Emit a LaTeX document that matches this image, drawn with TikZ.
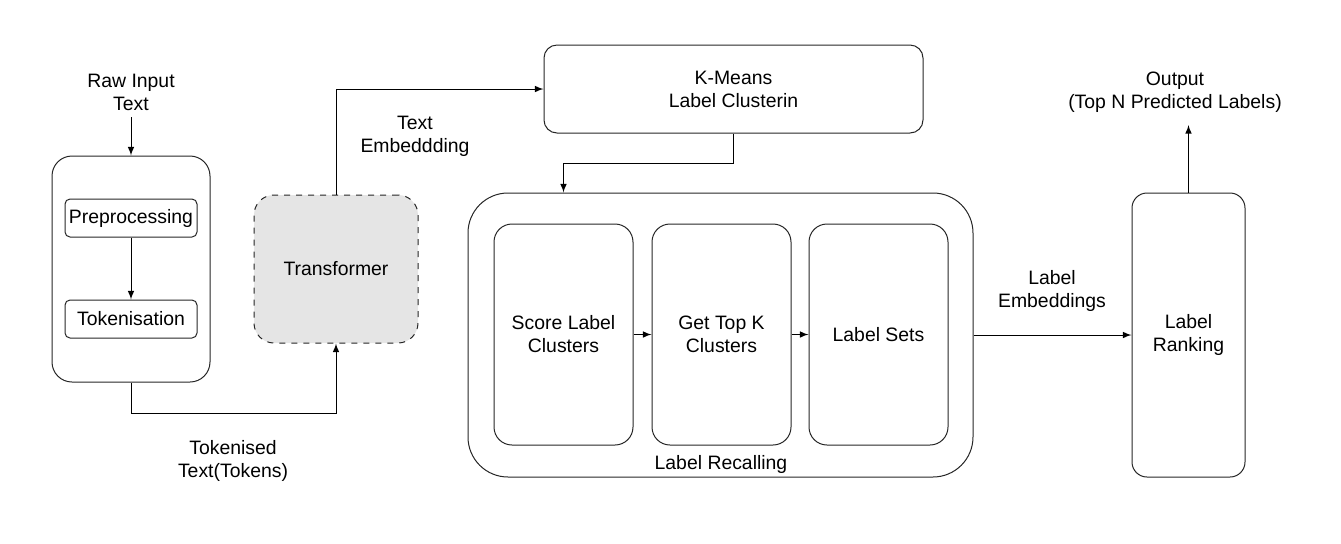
\documentclass[tikz,border=0pt]{standalone}
\usepackage{fontspec}
\setmainfont{Liberation Sans}
\usepackage{tikz}
\usetikzlibrary{shapes, arrows, positioning, calc}

\begin{document}
\begin{tikzpicture}[x=0.5pt, y=-0.5pt, node distance=0.5cm and 0.1cm,
	font=\fontsize{9.7}{11.5}\selectfont, line width=0.5pt, >=latex,
	box/.style={draw=black!85, rounded corners=#1, align=center, inner sep=0pt},
	txt/.style={align=center}]
	\useasboundingbox (0,0) rectangle (1341,543);
	% input side
	\node[txt] (raw) at (131,92) {Raw Input\\Text};
	\node[box=10pt, minimum width=79pt, minimum height=113pt] (pipe) at (131,269) {};
		\node[box=2.5pt, minimum width=66pt, minimum height=19pt] (pre) at (131,218) {Preprocessing};
		\node[box=2.5pt, minimum width=66pt, minimum height=19pt] (tok) at (131,319) {Tokenisation};
	\node[box=10pt, dashed, fill=gray!20, minimum width=82pt, minimum height=74pt] (trf) at (336,269) {Transformer};
	\node[txt] (tokd) at (233,461) {Tokenised\\Text(Tokens)};
	\node[txt] (temb) at (415,136) {Text\\Embeddding};
	% clustering and recall
	\node[box=6.5pt, minimum width=189.5pt, minimum height=44pt] (km) at (733.5,89) {K-Means\\Label Clusterin};
	\node[box=20pt, minimum width=252.5pt, minimum height=142pt] (recall) at (720.5,335) {};
		\node[box=9pt, minimum width=69.5pt, minimum height=110.5pt] (score) at (563.5,334.5) {Score Label\\Clusters};
		\node[box=9pt, minimum width=69.5pt, minimum height=110.5pt] (topk) at (721.5,334.5) {Get Top K\\Clusters};
		\node[box=9pt, minimum width=69.5pt, minimum height=110.5pt] (sets) at (878.5,334.5) {Label Sets};
	\node[txt] (rcl) at (721,464) {Label Recalling};
	% ranking
	\node[txt] (lemb) at (1052,291) {Label\\Embeddings};
	\node[box=7.5pt, minimum width=56.5pt, minimum height=142pt] (rank) at (1188.5,335) {Label\\Ranking};
	\node[txt] (out) at (1175,92) {Output\\(Top N Predicted Labels)};
	\coordinate (top) at (1188.5,125);

	\draw[->] (raw.south) -- (pipe.north);
	\draw[->] (trf.north) |- (km.west);
	\draw[->] (pipe.south) -- ++(0,31) -| (trf.south);
	\draw[->] (km.south) -- ++(0,30) -| (score |- recall.north);
	\foreach \from/\to in {pre/tok,score/topk,topk/sets,recall/rank}
		\draw[->] (\from) -- (\to);
	\draw[->] (rank.north) -- (top);
\end{tikzpicture}
\end{document}
